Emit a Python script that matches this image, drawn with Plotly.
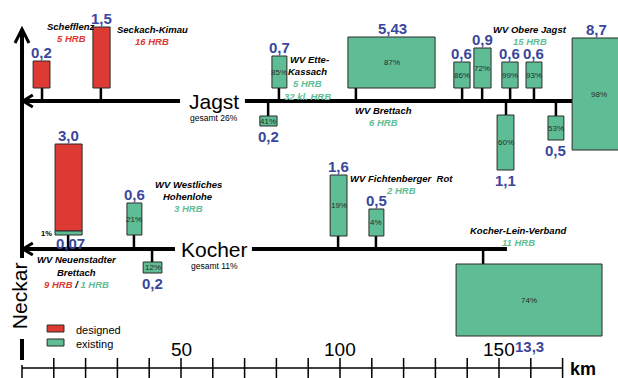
import plotly.graph_objects as go

# ---------------- DATA ----------------
# reservoir groups: volume in Mio m3, filled share (existing) in %
box_river   = ["Jagst"]*12 + ["Kocher"]*6
box_kind    = ["designed", "designed", "existing", "existing", "existing", "existing",
               "existing", "existing", "existing", "existing", "existing", "existing",
               "designed", "existing", "existing", "existing", "existing", "existing"]
box_volume  = [0.2, 1.5, 0.7, 0.2, 5.43, 0.6, 0.9, 0.6, 0.6, 1.1, 0.5, 8.7,
               3.0, 0.6, 0.2, 1.6, 0.5, 13.3]
box_percent = [None, None, 85, 41, 87, 86, 72, 99, 93, 60, 53, 98,
               None, 21, 12, 19, 4, 74]
box_side    = ["up", "up", "up", "down", "up", "up", "up", "up", "up", "down", "down", "up",
               "up", "up", "down", "up", "up", "down"]
# river km of the outlet of each group
box_km      = [6.3, 24.8, 80.8, 77.4, 105.0, 138.4, 144.7, 153.5, 161.0, 152.2, 167.9, 173.0,
               14.5, 35.2, 40.9, 99.4, 111.3, 145.0]

# existing part of the Neuenstadter Brettach group
neu_exist_volume = 0.07
neu_exist_percent = 1

group_lines = [
    ("Schefflenz", [("5 HRB", "designed")]),
    ("Seckach-Kimau", [("16 HRB", "designed")]),
    ("WV Ette-", []), ("Kassach", [("5 HRB", "existing")]), ("", [("32 kl. HRB", "existing")]),
    ("WV Brettach", [("6 HRB", "existing")]),
    ("WV Obere Jagst", [("15 HRB", "existing")]),
    ("WV Westliches", []), ("Hohenlohe", [("3 HRB", "existing")]),
    ("WV Fichtenberger  Rot", [("2 HRB", "existing")]),
    ("WV Neuenstadter", []), ("Brettach", [("9 HRB", "designed"), ("1 HRB", "existing")]),
    ("Kocher-Lein-Verband", [("11 HRB", "existing")]),
]
river_names  = ["Jagst", "Kocher"]
river_totals = ["gesamt 26%", "gesamt 11%"]
km_ticks     = list(range(0, 171, 10))
km_labels    = [50, 100, 150]
legend_items = ["designed", "existing"]

# ---------------- LAYOUT / STYLE ----------------
RED, GREEN, BLUE = "#dd3a33", "#5fbd95", "#3a479c"
EDGE = "#2a2a2a"
FONT = "Liberation Sans, Arial, sans-serif"
kind_color = {"designed": RED, "existing": GREEN}

river_y = {"Jagst": 101, "Kocher": 249}
# river line segments (km) left and right of the name
river_seg = {"Jagst": [(0, 49.7), (70.1, 173.0)], "Kocher": [(0, 48.1), (72.3, 152.5)]}
river_label_km = {"Jagst": 60.5, "Kocher": 60.5}

# box geometry: left km, right km, top, bottom (schematic vertical units)
box_geom = [
    (3.5, 8.8, 61, 88), (22.3, 27.7, 27, 88), (78.6, 83.3, 56, 88), (74.8, 80.2, 116, 126),
    (102.5, 129.9, 37, 88), (135.8, 140.9, 62, 88), (142.1, 147.5, 48, 88),
    (150.9, 156.0, 62, 88), (158.5, 163.5, 62, 88), (149.4, 154.7, 115, 170),
    (165.4, 170.4, 116, 140), (173.0, 190.0, 38, 150),
    (10.4, 18.9, 144, 231), (33.0, 37.7, 203, 235), (38.1, 44.0, 262, 273),
    (96.9, 102.2, 175, 236), (109.1, 113.8, 209, 236), (136.5, 182.4, 264, 336),
]
neu_strip_bottom = 235
value_label_km = {4: 116.5, 11: 180.8, 12: 14.5}

group_pos = [(15.5, 26), (41.0, 29), (90.5, 59), (89.9, 71), (89.9, 96), (113.8, 110),
             (159.7, 29), (52.2, 184), (52.2, 196), (119.2, 178), (17.3, 259), (17.0, 272),
             (156.0, 230)]

PX_PER_KM = 3.18
X_ORIGIN = 22

fig = go.Figure()
shapes, ann = [], []

def line(x0, y0, x1, y1, w=3, c="black"):
    shapes.append(dict(type="line", xref="x", yref="y", x0=x0, y0=y0, x1=x1, y1=y1,
                       line=dict(color=c, width=w)))

def text(x, y, s, size=10, color="black", xanchor="center", angle=0):
    ann.append(dict(x=x, y=y, xref="x", yref="y", text=s, showarrow=False, textangle=angle,
                    xanchor=xanchor, yanchor="middle",
                    font=dict(family=FONT, size=size, color=color)))

def fmt(v):
    return str(v).replace(".", ",")

# Neckar (vertical)
line(0, 29, 0, 258, w=4)
line(0, 339, 0, 360, w=4)
shapes.append(dict(type="path", xref="x", yref="y",
                   path="M -2.2,43 L 0,29 L 2.2,43", line=dict(color="black", width=3)))
text(-0.9, 296, "Neckar", size=21, angle=-90)

# rivers
for r, tot in zip(river_names, river_totals):
    y = river_y[r]
    for a, b in river_seg[r]:
        line(a, y, b, y, w=4)
    shapes.append(dict(type="path", xref="x", yref="y",
                       path=f"M 3.4,{y-6} L 0.3,{y} L 3.4,{y+6}", line=dict(color="black", width=3)))
    text(river_label_km[r], y, r, size=21)
    text(river_label_km[r], y + 17, tot, size=8.5)

# boxes
for i, (km, vol, pct, side, kind, riv) in enumerate(zip(box_km, box_volume, box_percent,
                                                        box_side, box_kind, box_river)):
    x0, x1, top, bot = box_geom[i]
    ry = river_y[riv]
    if i != 11:
        if side == "up":
            sb = neu_strip_bottom if i == 12 else bot
            line(km, sb, km, ry, w=2.5)
        else:
            line(km, ry, km, top, w=2.5)
    shapes.append(dict(type="rect", xref="x", yref="y", x0=x0, x1=x1, y0=top, y1=bot,
                       fillcolor=kind_color[kind], line=dict(color=EDGE, width=1)))
    cx = value_label_km.get(i, (x0 + x1) / 2)
    ly = top - 8.5 if side == "up" else bot + 10
    text(cx, ly, f"<b>{fmt(vol)}</b>", size=15, color=BLUE)
    if pct is not None:
        text((x0 + x1) / 2, (top + bot) / 2, f"{pct}%", size=8, color="#2b2b2b")

# Neuenstadter Brettach existing strip
x0, x1, top, bot = box_geom[12]
shapes.append(dict(type="rect", xref="x", yref="y", x0=x0, x1=x1, y0=bot, y1=neu_strip_bottom,
                   fillcolor=GREEN, line=dict(color=EDGE, width=1)))
text(x0 - 0.4, (bot + neu_strip_bottom) / 2, f"<b>{neu_exist_percent}%</b>", size=7.5,
     xanchor="right")
text(15.1, 243, f"<b>{fmt(neu_exist_volume)}</b>", size=15, color=BLUE)

# group labels
for (title, hrbs), (gx, gy) in zip(group_lines, group_pos):
    if title:
        text(gx, gy, f"<b><i>{title}</i></b>", size=9.5)
        if hrbs:
            parts = [f"<span style='color:{kind_color[k]}'>{h}</span>" for h, k in hrbs]
            text(gx, gy + 12.5, "<b><i>" + " <span style='color:black'>/</span> ".join(parts) + "</i></b>",
                 size=9.5)
    else:
        parts = [f"<span style='color:{kind_color[k]}'>{h}</span>" for h, k in hrbs]
        text(gx, gy, "<b><i>" + " / ".join(parts) + "</i></b>", size=9.5)

# km scale
line(0, 368, km_ticks[-1], 368, w=1.5)
for t in km_ticks:
    line(t, 358 if t else 365, t, 379, w=1.5)
for t in km_labels:
    text(t, 349, str(t), size=19)
text(171.6, 369, "<b>km</b>", size=18, xanchor="left")

# legend
for k, (name, y) in enumerate(zip(legend_items, [328.5, 342.5])):
    shapes.append(dict(type="rect", xref="x", yref="y", x0=7.9, x1=13.2, y0=y - 3.5, y1=y + 3.5,
                       fillcolor=kind_color[name], line=dict(color=EDGE, width=1)))
    text(16.4, y + 1, name, size=11, xanchor="left")

fig.update_layout(
    width=618, height=378, margin=dict(l=0, r=0, t=0, b=0),
    paper_bgcolor="white", plot_bgcolor="white", showlegend=False,
    xaxis=dict(range=[-X_ORIGIN / PX_PER_KM, (618 - X_ORIGIN) / PX_PER_KM], visible=False,
               fixedrange=True),
    yaxis=dict(range=[378, 0], visible=False, fixedrange=True),
    shapes=shapes, annotations=ann,
)
fig.write_html("out.html", config={"displayModeBar": False},
               post_script="document.body.style.margin='0';document.body.style.overflow='hidden';")
